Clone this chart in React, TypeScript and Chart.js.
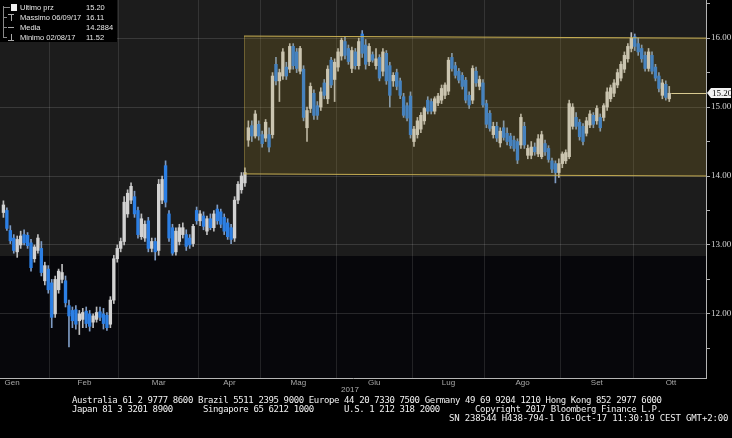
import React, { useEffect, useRef } from 'react';
import { Chart, registerables } from 'chart.js';

Chart.register(...registerables);

// ---------------- DATA ----------------
const MONTHS = ['Gen', 'Feb', 'Mar', 'Apr', 'Mag', 'Giu', 'Lug', 'Ago', 'Set', 'Ott'];
// trading days shown per month, and full trading days of each month (for label centring)
const MONTH_SHOWN_DAYS = [14, 20, 23, 18, 22, 22, 21, 22, 21, 11];
const MONTH_FULL_DAYS = [22, 20, 23, 18, 22, 22, 21, 22, 21, 22];
const YEAR_LABEL = '2017';

// daily candles: [open, high, low, close]
const JAN = [
  [13.47, 13.64, 13.40, 13.58], [13.50, 13.54, 13.21, 13.24], [13.21, 13.28, 13.02, 13.06],
  [13.10, 13.15, 12.88, 12.92], [12.90, 13.13, 12.82, 13.08], [13.00, 13.20, 12.95, 13.13],
  [13.15, 13.22, 13.00, 13.03], [13.14, 13.18, 12.95, 12.99], [13.03, 13.08, 12.62, 12.67],
  [12.80, 13.00, 12.75, 12.97], [12.92, 13.15, 12.88, 13.10], [12.95, 13.05, 12.55, 12.60],
  [12.48, 12.75, 12.42, 12.70], [12.65, 12.70, 12.30, 12.35],
];
const FEB = [
  [12.45, 12.50, 11.80, 11.95], [12.00, 12.55, 11.95, 12.50], [12.35, 12.65, 12.30, 12.62],
  [12.50, 12.72, 12.45, 12.60], [12.48, 12.55, 12.10, 12.16], [12.12, 12.20, 11.52, 11.97],
  [12.05, 12.10, 11.80, 11.90], [12.06, 12.12, 11.78, 11.85], [11.90, 12.05, 11.70, 12.00],
  [11.92, 12.08, 11.80, 12.02], [12.04, 12.10, 11.80, 11.86], [12.00, 12.05, 11.75, 11.82],
  [11.88, 12.00, 11.80, 11.97], [11.92, 12.10, 11.88, 12.02], [12.03, 12.10, 11.90, 11.95],
  [12.00, 12.08, 11.78, 11.86], [11.98, 12.02, 11.76, 11.80], [11.85, 12.25, 11.80, 12.20],
  [12.20, 12.85, 12.15, 12.80], [12.80, 13.00, 12.75, 12.95],
];
const MAR = [
  [12.95, 13.10, 12.90, 13.05], [13.05, 13.70, 13.00, 13.62], [13.45, 13.80, 13.40, 13.75],
  [13.65, 13.90, 13.60, 13.85], [13.70, 13.78, 13.40, 13.45], [13.50, 13.55, 13.10, 13.15],
  [13.12, 13.45, 13.08, 13.38], [13.10, 13.35, 13.05, 13.30], [13.35, 13.40, 12.90, 12.95],
  [12.95, 13.10, 12.90, 13.05], [13.05, 13.10, 12.78, 12.90], [12.92, 13.95, 12.85, 13.88],
  [13.65, 14.00, 13.60, 13.95], [14.15, 14.22, 13.55, 13.62], [13.45, 13.50, 13.05, 13.10],
  [13.25, 13.30, 12.85, 12.88], [12.90, 13.25, 12.85, 13.20], [13.05, 13.30, 13.00, 13.25],
  [13.15, 13.32, 13.10, 13.25], [13.15, 13.22, 12.92, 12.98], [13.10, 13.15, 12.95, 13.00],
  [13.02, 13.30, 12.98, 13.27], [13.50, 13.55, 13.30, 13.35],
];
const APR = [
  [13.35, 13.50, 13.28, 13.45], [13.42, 13.48, 13.22, 13.27], [13.20, 13.42, 13.15, 13.38],
  [13.38, 13.45, 13.22, 13.25], [13.25, 13.50, 13.20, 13.45], [13.52, 13.58, 13.30, 13.35],
  [13.48, 13.52, 13.25, 13.30], [13.40, 13.45, 13.15, 13.20], [13.32, 13.38, 13.08, 13.12],
  [13.25, 13.30, 13.02, 13.08], [13.10, 13.70, 13.05, 13.65], [13.65, 13.92, 13.60, 13.88],
  [13.80, 14.05, 13.75, 14.00], [13.90, 14.12, 13.85, 14.05], [14.52, 14.80, 14.43, 14.70],
  [14.73, 14.80, 14.50, 14.58], [14.58, 14.95, 14.55, 14.90], [14.75, 14.80, 14.52, 14.58],
];
const MAY = [
  [14.60, 14.65, 14.42, 14.47], [14.55, 14.82, 14.50, 14.78], [14.60, 14.70, 14.35, 14.42],
  [14.60, 15.50, 14.55, 15.45], [15.62, 15.72, 15.32, 15.38], [15.38, 15.55, 15.08, 15.50],
  [15.45, 15.85, 15.40, 15.80], [15.58, 15.65, 15.40, 15.45], [15.55, 15.92, 15.50, 15.88],
  [15.88, 15.92, 15.55, 15.60], [15.80, 15.85, 15.50, 15.56], [15.52, 15.88, 15.48, 15.85],
  [15.55, 15.60, 14.80, 14.85], [14.70, 15.00, 14.50, 14.95], [14.98, 15.35, 14.92, 15.30],
  [15.20, 15.25, 14.82, 14.88], [15.02, 15.08, 14.82, 14.88], [15.00, 15.28, 14.95, 15.22],
  [15.35, 15.40, 15.12, 15.17], [15.12, 15.60, 15.05, 15.55], [15.68, 15.72, 15.28, 15.32],
  [15.40, 15.70, 15.08, 15.65],
];
const JUN = [
  [15.58, 15.85, 15.52, 15.80], [15.74, 16.00, 15.68, 15.97], [15.95, 16.02, 15.70, 15.75],
  [15.85, 15.90, 15.62, 15.66], [15.56, 15.87, 15.50, 15.82], [15.80, 15.85, 15.55, 15.60],
  [15.60, 16.00, 15.55, 15.95], [16.06, 16.11, 15.72, 15.78], [15.90, 15.98, 15.55, 15.62],
  [15.66, 15.92, 15.60, 15.88], [15.76, 15.80, 15.65, 15.68], [15.60, 15.85, 15.55, 15.70],
  [15.72, 15.76, 15.38, 15.42], [15.52, 15.85, 15.45, 15.80], [15.78, 15.82, 15.33, 15.38],
  [15.60, 15.65, 15.00, 15.17], [15.38, 15.50, 15.30, 15.46], [15.50, 15.55, 15.25, 15.30],
  [15.38, 15.42, 15.12, 15.17], [15.15, 15.20, 14.85, 14.88], [15.02, 15.06, 14.80, 14.84],
  [15.16, 15.22, 14.55, 14.60],
];
const JUL = [
  [14.50, 14.72, 14.43, 14.68], [14.60, 14.85, 14.55, 14.80], [14.68, 14.92, 14.63, 14.88],
  [14.80, 15.00, 14.75, 14.98], [15.10, 15.15, 14.90, 14.94], [15.08, 15.12, 14.90, 14.94],
  [14.94, 15.15, 14.90, 15.12], [15.06, 15.20, 15.02, 15.16], [15.10, 15.32, 15.05, 15.27],
  [15.17, 15.35, 15.12, 15.32], [15.23, 15.72, 15.18, 15.68], [15.72, 15.78, 15.52, 15.56],
  [15.60, 15.65, 15.42, 15.46], [15.52, 15.56, 15.35, 15.39], [15.46, 15.50, 15.26, 15.30],
  [15.39, 15.43, 15.06, 15.10], [15.17, 15.22, 14.98, 15.03], [15.10, 15.60, 15.05, 15.56],
  [15.52, 15.58, 15.30, 15.35], [15.30, 15.45, 15.25, 15.40], [15.35, 15.40, 15.00, 15.03],
];
const AUG = [
  [15.05, 15.10, 14.70, 14.75], [14.91, 14.95, 14.65, 14.69], [14.60, 14.78, 14.55, 14.72],
  [14.72, 14.78, 14.50, 14.55], [14.48, 14.70, 14.42, 14.65], [14.70, 14.80, 14.52, 14.56],
  [14.62, 14.70, 14.45, 14.50], [14.58, 14.62, 14.40, 14.44], [14.52, 14.58, 14.36, 14.40],
  [14.50, 14.54, 14.18, 14.23], [14.45, 14.90, 14.40, 14.85], [14.72, 14.78, 14.40, 14.45],
  [14.30, 14.45, 14.25, 14.40], [14.30, 14.50, 14.25, 14.42], [14.42, 14.48, 14.30, 14.35],
  [14.32, 14.60, 14.28, 14.54], [14.28, 14.65, 14.25, 14.60], [14.47, 14.52, 14.30, 14.35],
  [14.40, 14.44, 14.20, 14.24], [14.22, 14.26, 14.05, 14.10], [14.18, 14.22, 13.90, 14.05],
  [14.05, 14.25, 13.98, 14.18],
];
const SEP = [
  [14.18, 14.35, 14.12, 14.32], [14.22, 14.38, 14.18, 14.34], [14.28, 15.10, 14.25, 15.05],
  [14.72, 15.05, 14.68, 15.00], [14.85, 14.92, 14.68, 14.72], [14.78, 14.82, 14.52, 14.57],
  [14.72, 14.76, 14.45, 14.50], [14.62, 14.85, 14.58, 14.80], [14.74, 14.95, 14.70, 14.90],
  [14.88, 14.92, 14.70, 14.75], [14.80, 15.02, 14.75, 14.98], [14.85, 14.90, 14.65, 14.70],
  [14.85, 15.05, 14.80, 15.02], [15.00, 15.28, 14.95, 15.22], [15.12, 15.32, 15.08, 15.28],
  [15.20, 15.40, 15.15, 15.35], [15.32, 15.55, 15.28, 15.50], [15.42, 15.66, 15.38, 15.62],
  [15.55, 15.80, 15.50, 15.75], [15.70, 15.92, 15.65, 15.88], [15.85, 16.08, 15.80, 16.00],
];
const OCT = [
  [16.02, 16.06, 15.82, 15.88], [15.92, 16.00, 15.75, 15.80], [15.85, 15.90, 15.65, 15.70],
  [15.75, 15.80, 15.52, 15.56], [15.56, 15.85, 15.52, 15.80], [15.75, 15.80, 15.48, 15.52],
  [15.58, 15.62, 15.38, 15.42], [15.45, 15.50, 15.22, 15.27], [15.17, 15.40, 15.12, 15.35],
  [15.33, 15.38, 15.10, 15.14], [15.12, 15.30, 15.08, 15.20],
];
const OHLC = [...JAN, ...FEB, ...MAR, ...APR, ...MAY, ...JUN, ...JUL, ...AUG, ...SEP, ...OCT];

const Y_TICKS = [11.5, 12, 12.5, 13, 13.5, 14, 14.5, 15, 15.5, 16, 16.5];
const Y_MIN = 11.07;
const Y_MAX = 16.553;
const X_MIN = -0.99;
const X_MAX = 203.65;
const BAND_SPLIT = 12.84; // price level where the background turns darker
const CHANNEL = { start: 69.7, topStart: 16.03, topEnd: 16.0, bottomStart: 14.03, bottomEnd: 14.0 };
const LAST_PRICE = 15.2;

const LEGEND_ROWS = [
  ['Ultimo prz', '15.20'],
  ['Massimo 06/09/17', '16.11'],
  ['Media', '14.2884'],
  ['Minimo 02/08/17', '11.52'],
];

const FOOTER_LINES = [
  'Australia 61 2 9777 8600 Brazil 5511 2395 9000 Europe 44 20 7330 7500 Germany 49 69 9204 1210 Hong Kong 852 2977 6000',
  'Japan 81 3 3201 8900      Singapore 65 6212 1000      U.S. 1 212 318 2000       Copyright 2017 Bloomberg Finance L.P.',
];
const FOOTER_SN = 'SN 238544 H438-794-1 16-Oct-17 11:30:19 CEST GMT+2:00';

// ---------------- COLOURS ----------------
const UP_BODY = '#d2d2d2';
const DOWN_BODY = '#2c7fe4';
const UP_WICK = '#bdbdbd';
const DOWN_WICK = '#7f9cc4';

const key = (v) => (typeof v === 'number' ? v.toFixed(2) : '');

// month boundaries (grid) and month label positions
const boundaries = [];
const labelMap = new Map();
{
  let start = 0;
  MONTH_SHOWN_DAYS.forEach((n, m) => {
    const fullStart = m === 0 ? start + n - MONTH_FULL_DAYS[m] : start;
    const mid = fullStart + MONTH_FULL_DAYS[m] / 2 - 0.5;
    labelMap.set(key(mid), MONTHS[m]);
    if (m > 0) boundaries.push(start - 0.5);
    start += n;
  });
}
const boundarySet = new Set(boundaries.map(key));
const xTickValues = [...boundaries, ...Array.from(labelMap.keys()).map(Number)].sort((a, b) => a - b);

const backdropPlugin = {
  id: 'backdrop',
  beforeDraw(chart) {
    const { ctx, chartArea: a, scales } = chart;
    const y = scales.y;
    ctx.save();
    ctx.fillStyle = '#000';
    ctx.fillRect(0, 0, chart.width, chart.height);
    const split = Math.round(y.getPixelForValue(BAND_SPLIT));
    ctx.fillStyle = '#1c1c1c';
    ctx.fillRect(a.left, a.top, a.right - a.left, split - a.top);
    ctx.fillStyle = '#07070b';
    ctx.fillRect(a.left, split, a.right - a.left, a.bottom - split);
    ctx.restore();
  },
};

const line = (ctx, x1, y1, x2, y2) => {
  ctx.beginPath();
  ctx.moveTo(x1, y1);
  ctx.lineTo(x2, y2);
  ctx.stroke();
};

const overlayPlugin = {
  id: 'overlay',
  afterDatasetsDraw(chart) {
    const { ctx, chartArea: a, scales } = chart;
    const x = scales.x;
    const y = scales.y;
    const x0 = Math.round(x.getPixelForValue(CHANNEL.start));
    const x1 = a.right;
    const yt0 = y.getPixelForValue(CHANNEL.topStart);
    const yt1 = y.getPixelForValue(CHANNEL.topEnd);
    const yb0 = y.getPixelForValue(CHANNEL.bottomStart);
    const yb1 = y.getPixelForValue(CHANNEL.bottomEnd);
    ctx.save();
    ctx.beginPath();
    ctx.moveTo(x0, yt0);
    ctx.lineTo(x1, yt1);
    ctx.lineTo(x1, yb1);
    ctx.lineTo(x0, yb0);
    ctx.closePath();
    ctx.fillStyle = 'rgba(175,145,40,0.2)';
    ctx.fill();
    ctx.lineWidth = 1;
    ctx.strokeStyle = 'rgba(205,180,85,0.95)';
    line(ctx, x0, yt0, x1, yt1);
    line(ctx, x0, yb0, x1, yb1);
    ctx.strokeStyle = 'rgba(205,180,85,0.35)';
    line(ctx, x0 + 0.5, yt0, x0 + 0.5, yb0);
    // last price line
    const yl = Math.round(y.getPixelForValue(LAST_PRICE)) + 0.5;
    const xl = x.getPixelForValue(OHLC.length - 1) + 2;
    ctx.strokeStyle = '#d8ca90';
    line(ctx, xl, yl, a.right, yl);
    ctx.restore();
  },
  afterDraw(chart) {
    const { ctx, chartArea: a, scales } = chart;
    const y = scales.y;
    const yl = Math.round(y.getPixelForValue(LAST_PRICE));
    const xr = a.right + 1;
    ctx.save();
    // last price tag
    ctx.fillStyle = '#f2f2f2';
    ctx.beginPath();
    ctx.moveTo(xr, yl);
    ctx.lineTo(xr + 4, yl - 5);
    ctx.lineTo(chart.width - 1, yl - 5);
    ctx.lineTo(chart.width - 1, yl + 5);
    ctx.lineTo(xr + 4, yl + 5);
    ctx.closePath();
    ctx.fill();
    ctx.fillStyle = '#000';
    ctx.font = '9px "Liberation Serif"';
    ctx.textBaseline = 'middle';
    ctx.textAlign = 'left';
    ctx.fillText(LAST_PRICE.toFixed(2), xr + 5, yl + 0.5);

    // legend box
    ctx.fillStyle = '#000';
    ctx.fillRect(0, 0, 117, 42);
    ctx.lineWidth = 1;
    ctx.strokeStyle = '#888';
    line(ctx, 3.5, 6, 3.5, 38);
    line(ctx, 3.5, 7.5, 10, 7.5);
    line(ctx, 3.5, 17.5, 7, 17.5);
    line(ctx, 3.5, 27.5, 7, 27.5);
    line(ctx, 3.5, 37.5, 7, 37.5);
    ctx.fillStyle = '#f0f0f0';
    ctx.fillRect(11, 4, 6, 7);
    ctx.strokeStyle = '#aaa';
    line(ctx, 8, 14.5, 14, 14.5);
    line(ctx, 11.5, 14.5, 11.5, 21);
    line(ctx, 8, 27.5, 14, 27.5);
    line(ctx, 11.5, 34, 11.5, 40.5);
    line(ctx, 8, 40.5, 14, 40.5);
    ctx.fillStyle = '#e6e6e6';
    ctx.font = '7.5px "Liberation Sans"';
    ctx.textBaseline = 'middle';
    LEGEND_ROWS.forEach((r, i) => {
      const ty = 7.5 + i * 10.3;
      ctx.fillText(r[0], 20, ty);
      ctx.fillText(r[1], 86, ty);
    });
    ctx.restore();
  },
};

export default function App() {
  const ref = useRef(null);

  useEffect(() => {
    document.body.style.margin = '0';
    document.body.style.background = '#000';
    const up = OHLC.map((c) => c[3] >= c[0]);
    const bodyData = OHLC.map((c, i) => ({ x: i, y: [Math.min(c[0], c[3]), Math.max(c[0], c[3])] }));
    const wickData = OHLC.map((c, i) => ({ x: i, y: [c[2], c[1]] }));

    const chart = new Chart(ref.current, {
      type: 'bar',
      data: {
        datasets: [
          {
            label: 'body',
            data: bodyData,
            backgroundColor: up.map((u) => (u ? UP_BODY : DOWN_BODY)),
            borderWidth: 0,
            barThickness: 2.7,
            grouped: false,
            minBarLength: 1,
            order: 1,
          },
          {
            label: 'wick',
            data: wickData,
            backgroundColor: up.map((u) => (u ? UP_WICK : DOWN_WICK)),
            borderWidth: 0,
            barThickness: 1,
            grouped: false,
            order: 2,
          },
        ],
      },
      options: {
        responsive: false,
        maintainAspectRatio: false,
        animation: false,
        devicePixelRatio: 1,
        layout: { padding: 0 },
        plugins: { legend: { display: false }, tooltip: { enabled: false } },
        scales: {
          x: {
            type: 'linear',
            min: X_MIN,
            max: X_MAX,
            offset: false,
            afterBuildTicks: (s) => {
              s.ticks = xTickValues.map((v) => ({ value: v }));
            },
            afterFit: (s) => {
              s.height = 60;
              s.paddingLeft = 0;
              s.paddingRight = 0;
            },
            grid: {
              offset: false,
              drawTicks: false,
              color: (c) => (boundarySet.has(key(c.tick && c.tick.value)) ? 'rgba(255,255,255,0.11)' : 'rgba(0,0,0,0)'),
            },
            border: { display: true, color: '#b4b4b4', width: 1 },
            ticks: {
              autoSkip: false,
              maxRotation: 0,
              minRotation: 0,
              padding: 0,
              color: '#a8a8a8',
              font: { family: '"Liberation Sans", sans-serif', size: 8 },
              callback: (v) => labelMap.get(key(v)) || '',
            },
          },
          y: {
            type: 'linear',
            position: 'right',
            min: Y_MIN,
            max: Y_MAX,
            beginAtZero: false,
            afterBuildTicks: (s) => {
              s.ticks = Y_TICKS.map((v) => ({ value: v }));
            },
            afterFit: (s) => {
              s.width = 26;
              s.paddingTop = 0;
              s.paddingBottom = 0;
            },
            grid: {
              color: (c) => (c.tick && Number.isInteger(c.tick.value) ? 'rgba(255,255,255,0.13)' : 'rgba(0,0,0,0)'),
              tickColor: '#b0b0b0',
              tickLength: 4,
            },
            border: { display: true, color: '#b4b4b4', width: 1 },
            ticks: {
              autoSkip: false,
              padding: 1,
              color: '#d8d8d8',
              font: { family: '"Liberation Serif", serif', size: 9 },
              callback: (v) => (Number.isInteger(v) ? Number(v).toFixed(2) : ''),
            },
          },
        },
      },
      plugins: [backdropPlugin, overlayPlugin],
    });
    return () => chart.destroy();
  }, []);

  const footer = {
    position: 'absolute',
    font: '9px "DejaVu Sans Mono", monospace',
    lineHeight: '9px',
    color: '#f0f0f0',
    whiteSpace: 'pre',
  };

  return (
    <div style={{ position: 'relative', width: 732, height: 438, background: '#000', overflow: 'hidden' }}>
      <canvas ref={ref} width={732} height={438} style={{ display: 'block', width: 732, height: 438 }} />
      <div style={{ position: 'absolute', left: 0, top: 385, width: 700, textAlign: 'center', font: '8px "Liberation Sans", sans-serif', color: '#b0b0b0' }}>
        {YEAR_LABEL}
      </div>
      <div style={{ ...footer, left: 72, top: 396, letterSpacing: '-0.38px' }}>{FOOTER_LINES[0]}</div>
      <div style={{ ...footer, left: 72, top: 405, letterSpacing: '-0.38px' }}>{FOOTER_LINES[1]}</div>
      <div style={{ ...footer, left: 449, top: 414, letterSpacing: '-0.15px' }}>{FOOTER_SN}</div>
    </div>
  );
}
